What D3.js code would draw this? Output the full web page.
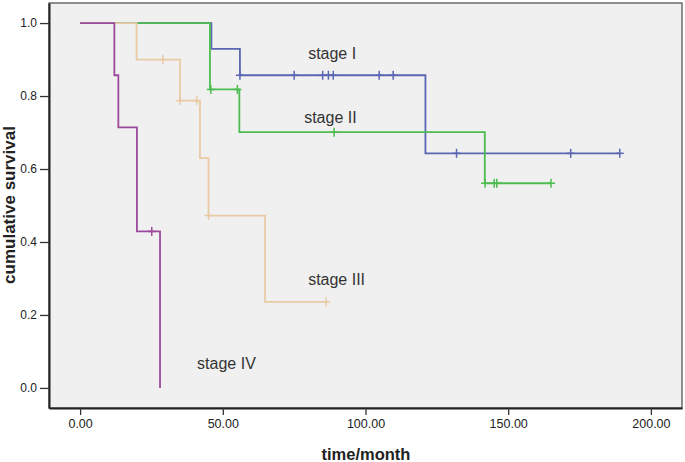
<!DOCTYPE html>
<html>
<head>
<meta charset="utf-8">
<script src="https://cdn.jsdelivr.net/npm/d3@7"></script>
<style>
  html, body { margin: 0; padding: 0; background: #ffffff; }
  svg { display: block; font-family: Arial, "Liberation Sans", sans-serif; }
</style>
</head>
<body>
<svg id="chart" width="685" height="462"></svg>
<script>
// ---- Data ----
const seriesNames = ["stage I", "stage II", "stage III", "stage IV"];

const stage1Times = [0, 46, 56, 121];
const stage1Surv  = [1, 0.929, 0.857, 0.643];
const stage1End   = 189.1;
const stage1Cens  = [56, 75, 85, 87, 88.7, 104.8, 109.7, 131.9, 171.9, 189.1];

const stage2Times = [0, 45.5, 55.8, 141.8];
const stage2Surv  = [1, 0.818, 0.701, 0.561];
const stage2End   = 165;
const stage2Cens  = [45.8, 55.1, 89, 141.9, 145.1, 146, 165];

const stage3Times = [0, 19.8, 35, 42, 45, 64.8];
const stage3Surv  = [1, 0.9, 0.7875, 0.63, 0.4725, 0.236];
const stage3End   = 86.2;
const stage3Cens  = [29, 35, 40.9, 45, 86.2];

const stage4Times = [0, 12, 13.4, 19.9, 28];
const stage4Surv  = [1, 0.857, 0.714, 0.429, 0];
const stage4End   = 28;
const stage4Cens  = [25.1];

// label anchor points in data units
const labelTimes = [79.9, 78.5, 79.9, 41];
const labelSurv  = [0.901, 0.726, 0.282, 0.052];

const xTicks = [0, 50, 100, 150, 200];
const yTicks = [0, 0.2, 0.4, 0.6, 0.8, 1.0];

const xTitle = "time/month";
const yTitle = "cumulative survival";

// ---- Styles ----
const colors = ["#5a66b2", "#4cbc50", "#e8cba6", "#9c4a9c"];

const series = [
  {times: stage1Times, surv: stage1Surv, end: stage1End, cens: stage1Cens},
  {times: stage2Times, surv: stage2Surv, end: stage2End, cens: stage2Cens},
  {times: stage3Times, surv: stage3Surv, end: stage3End, cens: stage3Cens},
  {times: stage4Times, surv: stage4Surv, end: stage4End, cens: stage4Cens}
];

const svg = d3.select("#chart");
const L = 49, R = 682, T = 3, B = 408;

const x = d3.scaleLinear().domain([-10.9, 210.9]).range([L, R]);
const y = d3.scaleLinear().domain([-0.055, 1.055]).range([B, T]);

// plot background
svg.append("rect")
  .attr("x", L).attr("y", T).attr("width", R - L).attr("height", B - T)
  .attr("fill", "#f0f0f0").attr("stroke", "#555").attr("stroke-width", 1.3);

// axes
const yAxis = d3.axisLeft(y).tickValues(yTicks).tickFormat(d3.format(".1f"))
  .tickSizeInner(9).tickSizeOuter(0).tickPadding(3);
const gy = svg.append("g").attr("transform", `translate(${L},0)`).call(yAxis);
gy.select(".domain").attr("stroke", "#222").attr("stroke-width", 2);
gy.selectAll(".tick line").attr("stroke", "#333").attr("stroke-width", 1.3);
gy.selectAll(".tick text").attr("font-size", 12).attr("fill", "#222")
  .attr("font-family", "Arial, 'Liberation Sans', sans-serif");

const xAxis = d3.axisBottom(x).tickValues(xTicks).tickFormat(d3.format(".2f"))
  .tickSizeInner(7).tickSizeOuter(0).tickPadding(4);
const gx = svg.append("g").attr("transform", `translate(0,${B})`).call(xAxis);
gx.select(".domain").attr("stroke", "#222").attr("stroke-width", 2);
gx.selectAll(".tick line").attr("stroke", "#333").attr("stroke-width", 1.3);
gx.selectAll(".tick text").attr("font-size", 12.5).attr("fill", "#222")
  .attr("font-family", "Arial, 'Liberation Sans', sans-serif");

// curves
const line = d3.line().x(d => x(d[0])).y(d => y(d[1])).curve(d3.curveStepAfter);
function survAt(s, t) {
  let v = s.surv[0];
  for (let i = 0; i < s.times.length; i++) if (s.times[i] <= t) v = s.surv[i];
  return v;
}
series.forEach((s, i) => {
  const pts = s.times.map((t, k) => [t, s.surv[k]]);
  if (s.end > s.times[s.times.length - 1]) pts.push([s.end, s.surv[s.surv.length - 1]]);
  const g = svg.append("g");
  g.append("path").attr("d", line(pts)).attr("fill", "none")
    .attr("stroke", colors[i]).attr("stroke-width", 1.8);
  const cg = g.selectAll("g.cens").data(s.cens).enter().append("g")
    .attr("transform", d => `translate(${x(d)},${y(survAt(s, d))})`);
  cg.append("line").attr("x1", 0).attr("x2", 0).attr("y1", -4.5).attr("y2", 4.5)
    .attr("stroke", colors[i]).attr("stroke-width", 1.5);
  cg.append("line").attr("x1", -4).attr("x2", 4).attr("y1", 0).attr("y2", 0)
    .attr("stroke", colors[i]).attr("stroke-width", 1.5);
});

// labels
seriesNames.forEach((n, i) => {
  svg.append("text").attr("x", x(labelTimes[i])).attr("y", y(labelSurv[i]))
    .attr("font-size", 16).attr("fill", "#333").text(n);
});

// titles
svg.append("text").attr("x", 366).attr("y", 460).attr("text-anchor", "middle")
  .attr("font-size", 16.5).attr("font-weight", "bold").attr("fill", "#222").text(xTitle);
svg.append("text").attr("transform", "translate(15,205) rotate(-90)").attr("text-anchor", "middle")
  .attr("font-size", 17).attr("font-weight", "bold").attr("fill", "#222").text(yTitle);
</script>
</body>
</html>
